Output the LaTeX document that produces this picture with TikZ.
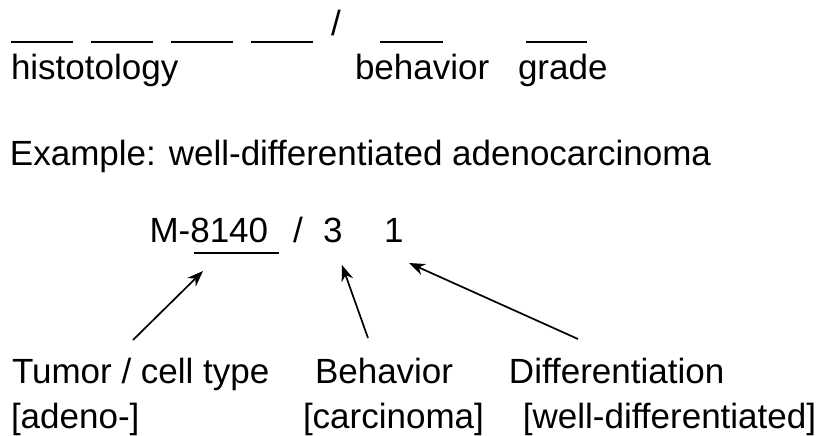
\documentclass[tikz,border=0pt]{standalone}
\usepackage{fontspec}
\setmainfont{Liberation Sans}
\usetikzlibrary{arrows.meta}
\begin{document}
\begin{tikzpicture}[x=0.5pt,y=-0.5pt,
  txt/.style={anchor=base west,inner sep=0pt,outer sep=0pt,
    font=\fontsize{17.5pt}{21pt}\selectfont},
  blank/.style={line width=1pt},
  pointer/.style={line width=0.85pt,-{Stealth[length=8pt,width=6pt]}}]
\useasboundingbox (0,0) rectangle (827,435);

% code template: blanks, separator and field names
\foreach \a/\b in {11/73,91/153,171/233,251/313,380/443,526/587}
  \draw[blank] (\a,42) -- (\b,42);
\node[txt] (sep) at (331,35) {/};
\node[txt] (histo) at (11,79) {histotology};
\node[txt] (behav) at (355,79) {behavior};
\node[txt] (grade) at (518,79) {grade};

% example
\node[txt] (example) at (10,165) {Example: well-differentiated adenocarcinoma};

% example code
\node[txt] (code) at (149.5,242) {M-8140};
\node[txt] (slash) at (293,242) {/};
\node[txt] (three) at (323,242) {3};
\node[txt] (one) at (384,242) {1};
\draw[line width=1pt] (194,253) -- (279,253);

% labels
\node[txt] (tumor) at (12,383) {Tumor / cell type};
\node[txt] (adeno) at (11,428) {[adeno-]};
\node[txt] (behavior) at (315,383) {Behavior};
\node[txt] (carc) at (303,428) {[carcinoma]};
\node[txt] (diff) at (509,383) {Differentiation};
\node[txt] (welldiff) at (523,428) {[well-differentiated]};

% pointers from labels to code parts
\coordinate (t1) at (133,340);
\coordinate (h1) at (203,271);
\coordinate (t2) at (368,338);
\coordinate (h2) at (342,265);
\coordinate (t3) at (578,339);
\coordinate (h3) at (409,263);
\draw[pointer] (t1) -- (h1);
\draw[pointer] (t2) -- (h2);
\draw[pointer] (t3) -- (h3);
\end{tikzpicture}
\end{document}
